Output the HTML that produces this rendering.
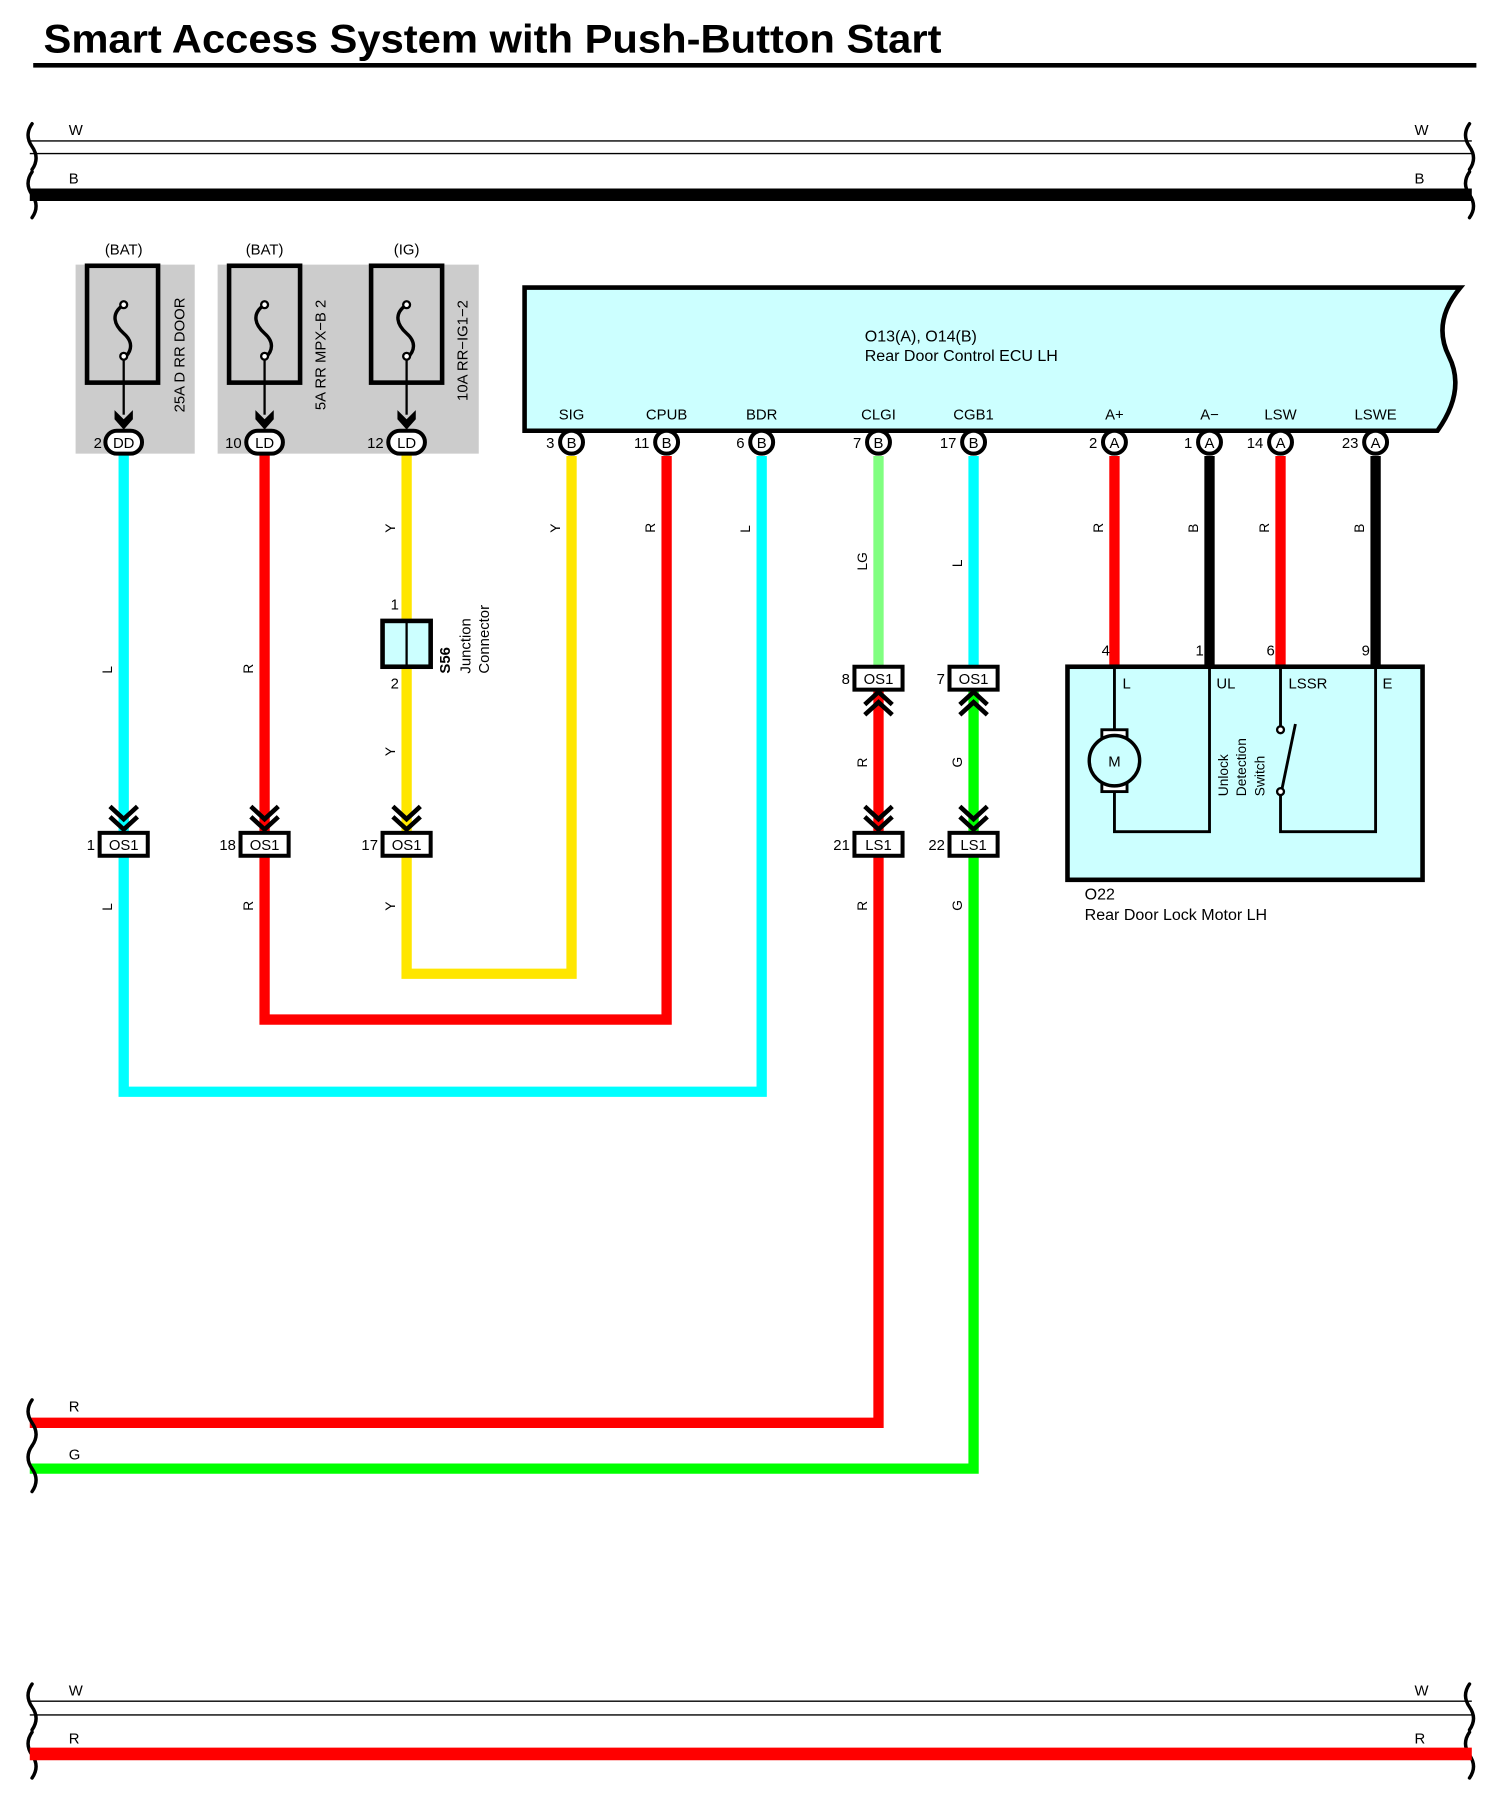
<!DOCTYPE html>
<html><head><meta charset="utf-8"><style>
html,body{margin:0;padding:0;background:#fff}
svg{display:block}
text{font-family:"Liberation Sans",Arial,sans-serif;fill:#000}
</style></head><body>
<svg width="1497" height="1794" viewBox="0 0 1307 1566" preserveAspectRatio="none" xmlns="http://www.w3.org/2000/svg">
<text x="38" y="46" font-size="35" font-weight="bold" textLength="784" lengthAdjust="spacingAndGlyphs">Smart Access System with Push-Button Start</text>
<rect x="29" y="55" width="1260" height="4" fill="#000"/>

<g fill="none" stroke="#000" stroke-width="3" stroke-linecap="round">
<path d="M28,108 q-7,10 0,20 q7,10 0,20"/>
<path d="M28,150 q-7,10 0,20 q7,10 0,20"/>
<path d="M1283,108 q-7,10 0,20 q7,10 0,20"/>
<path d="M1283,150 q-7,10 0,20 q7,10 0,20"/>
</g>
<line x1="26" y1="123" x2="1285" y2="123" stroke="#000" stroke-width="1.2"/>
<line x1="26" y1="134" x2="1285" y2="134" stroke="#000" stroke-width="1.2"/>
<line x1="26" y1="170" x2="1285" y2="170" stroke="#000" stroke-width="11"/>
<g font-size="13"><text x="60" y="118">W</text><text x="1235" y="118">W</text><text x="60" y="160">B</text><text x="1235" y="160">B</text></g>

<g>
<rect x="66" y="231" width="104" height="165" fill="#cccccc"/>
<rect x="190" y="231" width="228" height="165" fill="#cccccc"/>
</g>
<g font-size="13" text-anchor="middle">
<text x="108" y="222">(BAT)</text><text x="231" y="222">(BAT)</text><text x="355" y="222">(IG)</text>
</g>
<g fill="none" stroke="#000">
<rect x="76" y="232" width="62" height="102" stroke-width="4"/>
<rect x="200" y="232" width="62" height="102" stroke-width="4"/>
<rect x="324" y="232" width="62" height="102" stroke-width="4"/>
<path d="M108,266 c-12,8 -8,18 0,25 c8,7 8,15 0,22" stroke-width="3"/>
<path d="M231,266 c-12,8 -8,18 0,25 c8,7 8,15 0,22" stroke-width="3"/>
<path d="M355,266 c-12,8 -8,18 0,25 c8,7 8,15 0,22" stroke-width="3"/>
<line x1="108" y1="313" x2="108" y2="362" stroke-width="2"/>
<line x1="231" y1="313" x2="231" y2="362" stroke-width="2"/>
<line x1="355" y1="313" x2="355" y2="362" stroke-width="2"/>
</g>
<g fill="#fff" stroke="#000" stroke-width="2">
<circle cx="108" cy="266" r="3"/><circle cx="108" cy="311" r="3"/>
<circle cx="231" cy="266" r="3"/><circle cx="231" cy="311" r="3"/>
<circle cx="355" cy="266" r="3"/><circle cx="355" cy="311" r="3"/>
</g>
<g fill="#000">
<path d="M100,358 l8,8 l8,-8 l0,8 l-8,9 l-8,-9z"/>
<path d="M223,358 l8,8 l8,-8 l0,8 l-8,9 l-8,-9z"/>
<path d="M347,358 l8,8 l8,-8 l0,8 l-8,9 l-8,-9z"/>
</g>
<g font-size="13">
<text transform="translate(161,360) rotate(-90)">25A D RR DOOR</text>
<text transform="translate(284,358) rotate(-90)">5A RR MPX−B 2</text>
<text transform="translate(408,350) rotate(-90)">10A RR−IG1−2</text>
</g>

<g fill="none" stroke-width="9" stroke-linejoin="miter">
<path d="M108,397 V953 H665 V398" stroke="#00ffff"/>
<path d="M231,397 V890 H582 V398" stroke="#ff0000"/>
<path d="M355,397 V850 H499 V398" stroke="#ffe600"/>
</g>

<g fill="#fff" stroke="#000" stroke-width="3.5">
<rect x="92" y="376" width="32" height="20" rx="10"/>
<rect x="215" y="376" width="32" height="20" rx="10"/>
<rect x="339" y="376" width="32" height="20" rx="10"/>
</g>
<g font-size="13" text-anchor="middle">
<text x="108" y="391">DD</text><text x="231" y="391">LD</text><text x="355" y="391">LD</text>
</g>
<g font-size="13" text-anchor="end">
<text x="89" y="391">2</text><text x="211" y="391">10</text><text x="335" y="391">12</text>
</g>

<path d="M458,251 H1275 q-25,30 -10,60 q15,30 -10,65 H458 Z" fill="#ccffff" stroke="#000" stroke-width="4"/>
<text x="755" y="298" font-size="14">O13(A), O14(B)</text>
<text x="755" y="315" font-size="14">Rear Door Control ECU LH</text>
<g font-size="13" text-anchor="middle">
<text x="499" y="366">SIG</text><text x="582" y="366">CPUB</text><text x="665" y="366">BDR</text>
<text x="767" y="366">CLGI</text><text x="850" y="366">CGB1</text><text x="973" y="366">A+</text>
<text x="1056" y="366">A−</text><text x="1118" y="366">LSW</text><text x="1201" y="366">LSWE</text>
</g>

<g fill="none" stroke-width="9">
<path d="M767,398 V582" stroke="#80ff80"/>
<path d="M850,398 V582" stroke="#00ffff"/>
<path d="M767,602 V1242 H26" stroke="#ff0000"/>
<path d="M850,602 V1282 H26" stroke="#00ff00"/>
<path d="M973,398 V582" stroke="#ff0000"/>
<path d="M1056,398 V582" stroke="#000"/>
<path d="M1118,398 V582" stroke="#ff0000"/>
<path d="M1201,398 V582" stroke="#000"/>
</g>
<g fill="none" stroke="#000" stroke-width="3" stroke-linecap="round">
<path d="M28,1222 q-7,10 0,20 q7,10 0,20"/>
<path d="M28,1262 q-7,10 0,20 q7,10 0,20"/>
</g>
<g font-size="13"><text x="60" y="1232">R</text><text x="60" y="1274">G</text></g>

<g fill="#fff" stroke="#000" stroke-width="3.5">
<circle cx="499" cy="386" r="10"/><circle cx="582" cy="386" r="10"/><circle cx="665" cy="386" r="10"/>
<circle cx="767" cy="386" r="10"/><circle cx="850" cy="386" r="10"/><circle cx="973" cy="386" r="10"/>
<circle cx="1056" cy="386" r="10"/><circle cx="1118" cy="386" r="10"/><circle cx="1201" cy="386" r="10"/>
</g>
<g font-size="13" text-anchor="middle">
<text x="499" y="391">B</text><text x="582" y="391">B</text><text x="665" y="391">B</text>
<text x="767" y="391">B</text><text x="850" y="391">B</text><text x="973" y="391">A</text>
<text x="1056" y="391">A</text><text x="1118" y="391">A</text><text x="1201" y="391">A</text>
</g>
<g font-size="13" text-anchor="end">
<text x="484" y="391">3</text><text x="567" y="391">11</text><text x="650" y="391">6</text>
<text x="752" y="391">7</text><text x="835" y="391">17</text><text x="958" y="391">2</text>
<text x="1041" y="391">1</text><text x="1103" y="391">14</text><text x="1186" y="391">23</text>
</g>

<g font-size="12">
<text transform="translate(98,588) rotate(-90)">L</text>
<text transform="translate(221,588) rotate(-90)">R</text>
<text transform="translate(345,465) rotate(-90)">Y</text>
<text transform="translate(345,660) rotate(-90)">Y</text>
<text transform="translate(489,465) rotate(-90)">Y</text>
<text transform="translate(572,465) rotate(-90)">R</text>
<text transform="translate(655,465) rotate(-90)">L</text>
<text transform="translate(757,498) rotate(-90)">LG</text>
<text transform="translate(840,495) rotate(-90)">L</text>
<text transform="translate(963,465) rotate(-90)">R</text>
<text transform="translate(1046,465) rotate(-90)">B</text>
<text transform="translate(1108,465) rotate(-90)">R</text>
<text transform="translate(1191,465) rotate(-90)">B</text>
<text transform="translate(98,795) rotate(-90)">L</text>
<text transform="translate(221,795) rotate(-90)">R</text>
<text transform="translate(345,795) rotate(-90)">Y</text>
<text transform="translate(757,670) rotate(-90)">R</text>
<text transform="translate(840,670) rotate(-90)">G</text>
<text transform="translate(757,795) rotate(-90)">R</text>
<text transform="translate(840,795) rotate(-90)">G</text>
</g>

<rect x="334" y="542" width="42" height="40" fill="#ccffff" stroke="#000" stroke-width="4"/>
<line x1="355" y1="542" x2="355" y2="582" stroke="#000" stroke-width="2"/>
<g font-size="13"><text x="341" y="532">1</text><text x="341" y="601">2</text></g>
<text transform="translate(393,588) rotate(-90)" font-size="13" font-weight="bold">S56</text>
<text transform="translate(411,588) rotate(-90)" font-size="13">Junction</text>
<text transform="translate(427,588) rotate(-90)" font-size="13">Connector</text>

<g fill="none" stroke="#000" stroke-width="4">
<path d="M96,704 l12,11 l12,-11 M96,713 l12,11 l12,-11"/>
<path d="M219,704 l12,11 l12,-11 M219,713 l12,11 l12,-11"/>
<path d="M343,704 l12,11 l12,-11 M343,713 l12,11 l12,-11"/>
<path d="M755,704 l12,11 l12,-11 M755,713 l12,11 l12,-11"/>
<path d="M838,704 l12,11 l12,-11 M838,713 l12,11 l12,-11"/>
<path d="M755,615 l12,-11 l12,11 M755,624 l12,-11 l12,11"/>
<path d="M838,615 l12,-11 l12,11 M838,624 l12,-11 l12,11"/>
</g>
<g fill="#fff" stroke="#000" stroke-width="3.5">
<rect x="87" y="727" width="42" height="20"/><rect x="210" y="727" width="42" height="20"/><rect x="334" y="727" width="42" height="20"/>
<rect x="746" y="727" width="42" height="20"/><rect x="829" y="727" width="42" height="20"/>
<rect x="746" y="582" width="42" height="20"/><rect x="829" y="582" width="42" height="20"/>
</g>
<g font-size="13" text-anchor="middle">
<text x="108" y="742">OS1</text><text x="231" y="742">OS1</text><text x="355" y="742">OS1</text>
<text x="767" y="742">LS1</text><text x="850" y="742">LS1</text>
<text x="767" y="597">OS1</text><text x="850" y="597">OS1</text>
</g>
<g font-size="13" text-anchor="end">
<text x="83" y="742">1</text><text x="206" y="742">18</text><text x="330" y="742">17</text>
<text x="742" y="742">21</text><text x="825" y="742">22</text>
<text x="742" y="597">8</text><text x="825" y="597">7</text>
</g>

<rect x="932" y="582" width="310" height="186" fill="#ccffff" stroke="#000" stroke-width="4"/>
<g font-size="13" text-anchor="end">
<text x="969" y="572">4</text><text x="1051" y="572">1</text><text x="1113" y="572">6</text><text x="1196" y="572">9</text>
</g>
<g fill="none" stroke="#000" stroke-width="2.5">
<path d="M973,582 V638 M973,690 V726 H1056 V582"/>
<path d="M1118,582 V635 M1118,691 V726 H1201 V582"/>
<line x1="1119" y1="690" x2="1131" y2="632"/>
</g>
<rect x="962" y="637" width="22" height="8" fill="#fff" stroke="#000" stroke-width="2.5"/>
<rect x="962" y="683" width="22" height="8" fill="#fff" stroke="#000" stroke-width="2.5"/>
<circle cx="973" cy="664" r="22" fill="#ccffff" stroke="#000" stroke-width="3"/>
<text x="973" y="669" font-size="13" text-anchor="middle">M</text>
<g fill="#fff" stroke="#000" stroke-width="2"><circle cx="1118" cy="637" r="3"/><circle cx="1118" cy="691" r="3"/></g>
<g font-size="13"><text x="980" y="601">L</text><text x="1062" y="601">UL</text><text x="1125" y="601">LSSR</text><text x="1207" y="601">E</text></g>
<g font-size="12">
<text transform="translate(1072,695) rotate(-90)">Unlock</text>
<text transform="translate(1088,695) rotate(-90)">Detection</text>
<text transform="translate(1104,695) rotate(-90)">Switch</text>
</g>
<text x="947" y="785" font-size="14">O22</text>
<text x="947" y="803" font-size="14">Rear Door Lock Motor LH</text>

<g fill="none" stroke="#000" stroke-width="3" stroke-linecap="round">
<path d="M28,1470 q-7,10 0,20 q7,10 0,20"/>
<path d="M28,1512 q-7,10 0,20 q7,10 0,20"/>
<path d="M1283,1470 q-7,10 0,20 q7,10 0,20"/>
<path d="M1283,1512 q-7,10 0,20 q7,10 0,20"/>
</g>
<line x1="26" y1="1485" x2="1285" y2="1485" stroke="#000" stroke-width="1.2"/>
<line x1="26" y1="1497" x2="1285" y2="1497" stroke="#000" stroke-width="1.2"/>
<line x1="26" y1="1531" x2="1285" y2="1531" stroke="#ff0000" stroke-width="11"/>
<g font-size="13"><text x="60" y="1480">W</text><text x="1235" y="1480">W</text><text x="60" y="1522">R</text><text x="1235" y="1522">R</text></g>
</svg>
</body></html>
